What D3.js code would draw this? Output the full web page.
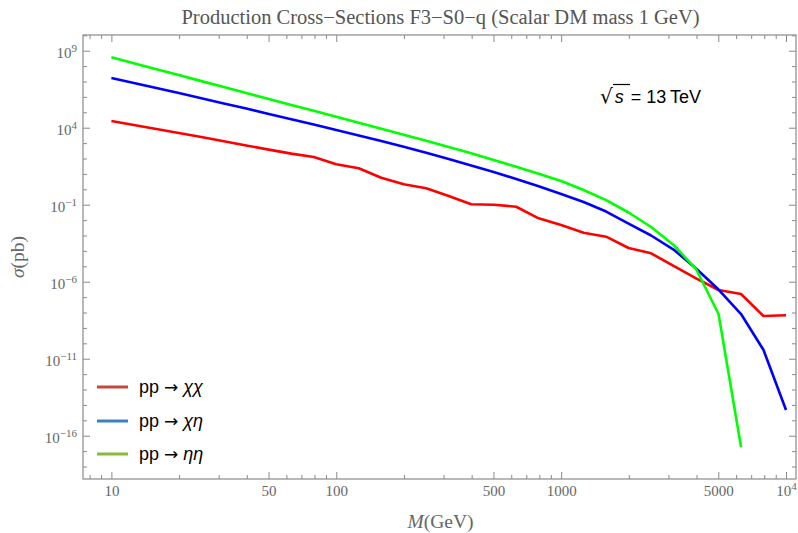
<!DOCTYPE html>
<html>
<head>
<meta charset="utf-8">
<script src="https://cdn.jsdelivr.net/npm/d3@7"></script>
<style>
  body { margin: 0; background: #fff; }
  svg { display: block; }
</style>
</head>
<body>
<script>
// masses sampled every 0.1 decade (GeV)
const masses = [10, 12.59, 15.85, 19.95, 25.12, 31.62, 39.81, 50.12, 63.1, 79.43,
  100, 125.9, 158.5, 199.5, 251.2, 316.2, 398.1, 501.2, 631, 794.3,
  1000, 1259, 1585, 1995, 2512, 3162, 3981, 5012, 6310, 7943, 10000];

// cross sections in pb
const sigmaChiChi = [2.72e4, 1.5e4, 8.24e3, 4.53e3, 2.49e3, 1.33e3, 710, 379, 208, 125,
  42, 23.1, 5.66, 2.11, 1.16, 0.367, 0.106, 0.1, 0.074, 0.0131,
  4.8e-3, 1.52e-3, 8.4e-4, 1.54e-4, 7.0e-5, 1.05e-5, 1.66e-6, 2.9e-7, 1.59e-7, 5.9e-9, 6.6e-9];

const sigmaChiEta = [1.69e7, 8.0e6, 3.79e6, 1.79e6, 8.24e5, 3.79e5, 1.74e5, 7.87e4, 3.56e4, 1.59e4,
  7.1e3, 3.12e3, 1.37e3, 575, 234, 92.9, 35.1, 13.3, 4.67, 1.59,
  0.495, 0.15, 0.0361, 6.0e-3, 1.0e-3, 1.23e-4, 7.2e-6, 3.1e-7, 8.0e-9, 3.7e-11, 4.7e-15];

const sigmaEtaEta = [3.73e8, 1.54e8, 6.3e7, 2.61e7, 1.06e7, 4.4e6, 1.79e6, 7.41e5, 3.03e5, 1.25e5,
  5.1e4, 2.08e4, 8.5e3, 3.46e3, 1.41e3, 558, 218, 80, 28.9, 10.3,
  3.46, 0.9, 0.2, 0.0312, 3.56e-3, 2.42e-4, 6.7e-6, 8.0e-9, 1.85e-17];

const xMajorTicks = [10, 50, 100, 500, 1000, 5000, 10000];
const xTickLabels = [["10"], ["50"], ["100"], ["500"], ["1000"], ["5000"], ["10", "4"]];
const yMajorExponents = [9, 4, -1, -6, -11, -16];

const seriesNames = ["χχ", "χη", "ηη"];
const lineColors = ["#ff0000", "#0000ff", "#00ff00"];
const legendColors = ["#c8453a", "#3a80c2", "#88b83c"];

const W = 798, H = 533;
const plotL = 83, plotR = 796, plotT = 35, plotB = 479;

const svg = d3.select("body").append("svg")
  .attr("width", W).attr("height", H);

const x = d3.scaleLog()
  .domain([Math.pow(10, 0.8738), Math.pow(10, 4.0444)])
  .range([plotL, plotR]);

const y = d3.scaleLog()
  .domain([Math.pow(10, -18.81), Math.pow(10, 10.02)])
  .range([plotB, plotT]);

const serif = "'Liberation Serif', 'DejaVu Serif', serif";
const sans = "'Liberation Sans', Arial, sans-serif";
const frameColor = "#8a8a8a";
const labelColor = "#666";

// minor ticks
const xMinor = [];
[1, 10, 100, 1000].forEach(dec => {
  for (let m = 1; m <= 9; m++) {
    const v = m * dec;
    if (v >= x.domain()[0] && v <= x.domain()[1] && !xMajorTicks.includes(v)) xMinor.push(v);
  }
});
const yMinor = d3.range(-18, 11)
  .filter(e => !yMajorExponents.includes(e) && Math.pow(10, e) <= y.domain()[1])
  .map(e => Math.pow(10, e));
const yMajor = yMajorExponents.map(e => Math.pow(10, e));

function styleAxis(g) {
  g.select(".domain").remove();
  g.selectAll(".tick line").attr("stroke", frameColor);
  g.selectAll(".tick text").attr("fill", labelColor)
    .attr("font-family", serif).attr("font-size", 15);
}

// bottom
svg.append("g").attr("transform", `translate(0,${plotB})`)
  .call(d3.axisBottom(x).tickValues(xMinor).tickSize(-4).tickFormat(""))
  .call(styleAxis);
const xAxisG = svg.append("g").attr("transform", `translate(0,${plotB})`)
  .call(d3.axisBottom(x).tickValues(xMajorTicks).tickSize(-7).tickPadding(6).tickSizeOuter(0))
  .call(styleAxis);
xAxisG.selectAll(".tick text").each(function(d, i) {
  const t = d3.select(this).text(null);
  const lab = xTickLabels[i];
  t.append("tspan").text(lab[0]);
  if (lab[1]) t.append("tspan").attr("dy", "-0.5em").attr("font-size", 11).text(lab[1]);
});
// top
svg.append("g").attr("transform", `translate(0,${plotT})`)
  .call(d3.axisTop(x).tickValues(xMinor).tickSize(-4).tickFormat(""))
  .call(styleAxis);
svg.append("g").attr("transform", `translate(0,${plotT})`)
  .call(d3.axisTop(x).tickValues(xMajorTicks).tickSize(-7).tickFormat(""))
  .call(styleAxis);
// left
svg.append("g").attr("transform", `translate(${plotL},0)`)
  .call(d3.axisLeft(y).tickValues(yMinor).tickSize(-4).tickFormat(""))
  .call(styleAxis);
const yAxisG = svg.append("g").attr("transform", `translate(${plotL},0)`)
  .call(d3.axisLeft(y).tickValues(yMajor).tickSize(-7).tickPadding(6))
  .call(styleAxis);
yAxisG.selectAll(".tick text").each(function(d, i) {
  const e = yMajorExponents[i];
  const t = d3.select(this).text(null).attr("dy", "0.45em");
  t.append("tspan").text("10");
  t.append("tspan").attr("dy", "-0.55em").attr("font-size", 11)
    .text(String(e).replace("-", "\u2212"));
});
// right
svg.append("g").attr("transform", `translate(${plotR},0)`)
  .call(d3.axisRight(y).tickValues(yMinor).tickSize(-4).tickFormat(""))
  .call(styleAxis);
svg.append("g").attr("transform", `translate(${plotR},0)`)
  .call(d3.axisRight(y).tickValues(yMajor).tickSize(-7).tickFormat(""))
  .call(styleAxis);

// frame
svg.append("rect")
  .attr("x", plotL).attr("y", plotT)
  .attr("width", plotR - plotL).attr("height", plotB - plotT)
  .attr("fill", "none").attr("stroke", frameColor).attr("stroke-width", 1.2);

// curves
const line = d3.line()
  .x(d => x(d[0]))
  .y(d => y(d[1]));

const allSeries = [sigmaChiChi, sigmaChiEta, sigmaEtaEta];
allSeries.forEach((vals, i) => {
  svg.append("path")
    .datum(vals.map((v, j) => [masses[j], v]))
    .attr("d", line)
    .attr("fill", "none")
    .attr("stroke", lineColors[i])
    .attr("stroke-width", 2.6)
    .attr("stroke-linejoin", "round");
});

// title
svg.append("text")
  .attr("x", (plotL + plotR) / 2 + 1).attr("y", 24)
  .attr("text-anchor", "middle")
  .attr("font-family", serif).attr("font-size", 20.5).attr("fill", "#555")
  .text("Production Cross\u2212Sections F3\u2212S0\u2212q (Scalar DM mass 1 GeV)");

// axis titles
const xt = svg.append("text")
  .attr("x", (plotL + plotR) / 2 + 1).attr("y", 528)
  .attr("text-anchor", "middle")
  .attr("font-family", serif).attr("font-size", 19.5).attr("fill", labelColor);
xt.append("tspan").attr("font-style", "italic").text("M");
xt.append("tspan").text("(GeV)");

const yt = svg.append("text")
  .attr("transform", `translate(24,${(plotT + plotB) / 2}) rotate(-90)`)
  .attr("text-anchor", "middle")
  .attr("font-family", serif).attr("font-size", 19.5).attr("fill", labelColor);
yt.append("tspan").attr("font-style", "italic").text("σ");
yt.append("tspan").text("(pb)");

// sqrt(s) annotation
const ann = svg.append("text")
  .attr("x", 600).attr("y", 103)
  .attr("font-family", sans).attr("font-size", 18).attr("fill", "#000");
ann.append("tspan").attr("font-family", "'DejaVu Sans', sans-serif").attr("font-size", 20).text("\u221A");
ann.append("tspan").attr("dx", 2).attr("font-style", "italic").text("s");
ann.append("tspan").attr("dx", 7).text("= 13\u2009TeV");
svg.append("line")
  .attr("x1", 613).attr("x2", 630).attr("y1", 84.5).attr("y2", 84.5)
  .attr("stroke", "#000").attr("stroke-width", 1.2);

// legend
const legendY = [387, 421, 454];
seriesNames.forEach((name, i) => {
  svg.append("line")
    .attr("x1", 97).attr("x2", 128)
    .attr("y1", legendY[i]).attr("y2", legendY[i])
    .attr("stroke", legendColors[i]).attr("stroke-width", 3);
  const t = svg.append("text")
    .attr("x", 139).attr("y", legendY[i] + 6)
    .attr("font-family", sans).attr("font-size", 18).attr("fill", "#000");
  t.append("tspan").text("pp ");
  t.append("tspan").attr("font-family", "'DejaVu Sans', sans-serif").attr("font-size", 17).text("\u2192");
  t.append("tspan").attr("dx", 5).attr("font-style", "italic").text(name);
});
</script>
</body>
</html>
